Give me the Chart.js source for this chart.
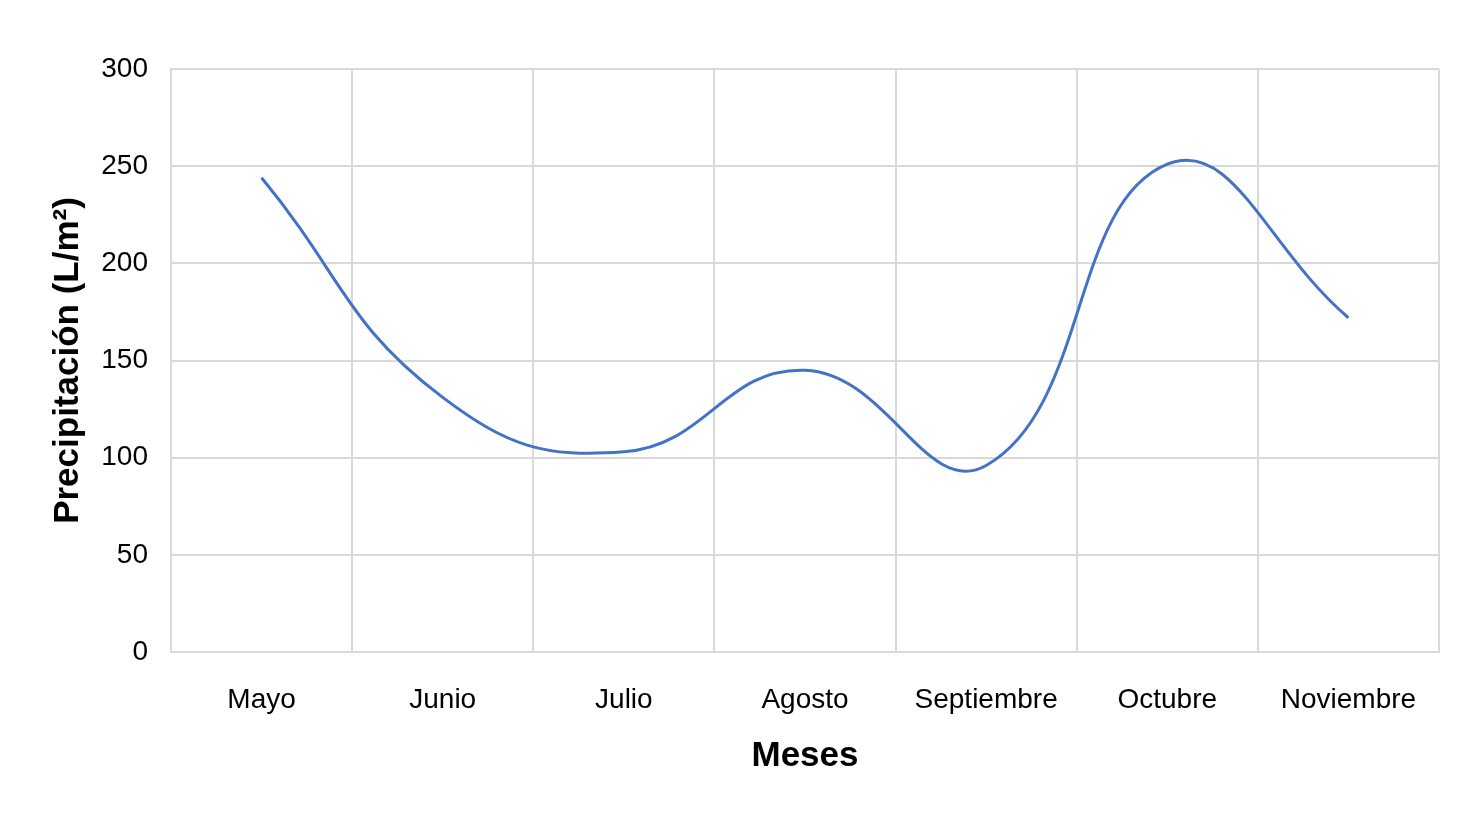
<!DOCTYPE html>
<html>
<head>
<meta charset="utf-8">
<script src="https://cdn.jsdelivr.net/npm/chart.js@4/dist/chart.umd.min.js"></script>
<style>
  html, body { margin: 0; padding: 0; background: #fff; }
  #wrap { position: relative; width: 1484px; height: 815px; }
</style>
</head>
<body>
<div id="wrap"><canvas id="myChart"></canvas></div>
<script>
const meses = ['Mayo', 'Junio', 'Julio', 'Agosto', 'Septiembre', 'Octubre', 'Noviembre'];
const precipitacion = [244, 131, 103, 145, 96, 251, 172];
const yTicks = [0, 50, 100, 150, 200, 250, 300];

const gridColor = '#d9d9d9';
const fontFamily = '"Liberation Sans", Helvetica, Arial, sans-serif';

const ctx = document.getElementById('myChart');
new Chart(ctx, {
  type: 'line',
  data: {
    labels: meses,
    datasets: [{
      label: 'Precipitación',
      data: precipitacion,
      borderColor: '#4472C4',
      borderWidth: 3,
      pointRadius: 0,
      tension: 0.45,
      fill: false
    }]
  },
  options: {
    responsive: true,
    maintainAspectRatio: false,
    animation: false,
    layout: { padding: { left: 47, top: 69, right: 45, bottom: 0 } },
    plugins: {
      legend: { display: false },
      tooltip: { enabled: false }
    },
    scales: {
      x: {
        offset: true,
        grid: { offset: true, color: gridColor, lineWidth: 2, drawTicks: false },
        border: { color: gridColor, width: 2 },
        ticks: {
          color: '#000',
          padding: 31,
          maxRotation: 0,
          font: { family: fontFamily, size: 28 }
        },
        title: {
          display: true,
          text: 'Meses',
          color: '#000',
          padding: { top: 0, bottom: 38 },
          font: { family: fontFamily, size: 35, weight: 'bold' }
        },
        afterFit: (scale) => { scale.height = 163; }
      },
      y: {
        min: 0,
        max: 300,
        afterBuildTicks: (scale) => { scale.ticks = yTicks.map(v => ({ value: v })); },
        grid: { color: gridColor, lineWidth: 2, drawTicks: false },
        border: { color: gridColor, width: 2 },
        ticks: {
          color: '#000',
          padding: 23,
          font: { family: fontFamily, size: 28 }
        },
        title: {
          display: true,
          text: 'Precipitación (L/m²)',
          color: '#000',
          padding: { top: 0, bottom: 0 },
          font: { family: fontFamily, size: 35, weight: 'bold' }
        },
        afterFit: (scale) => { scale.width = 124; }
      }
    }
  }
});
</script>
</body>
</html>
